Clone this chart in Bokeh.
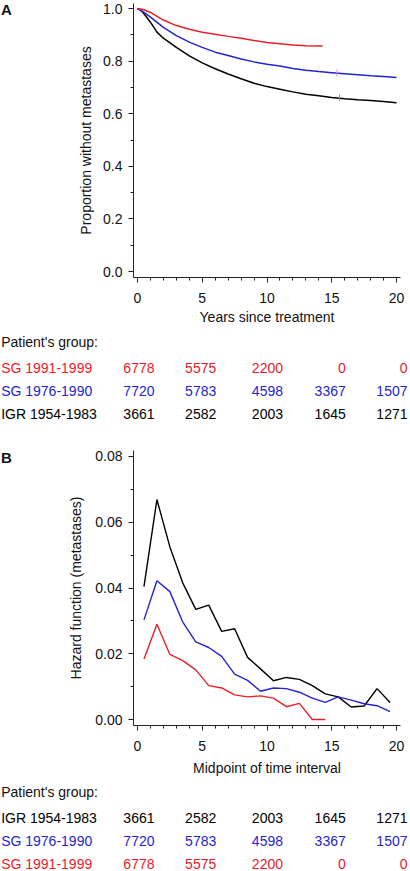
from bokeh.plotting import figure
from bokeh.layouts import column, row
from bokeh.models import Range1d, FixedTicker, NumeralTickFormatter, ColumnDataSource
from bokeh.core.properties import value
from bokeh.embed import file_html
from bokeh.resources import INLINE

FONT = "Liberation Sans"
RED = "#e8202a"
BLUE = "#2323d2"
BLACK = "#000000"

# ---------------- data: panel A (Kaplan-Meier, proportion without metastases)
km_igr_t = [0, 0.25, 0.5, 1, 1.5, 2, 3, 4, 5, 6, 7, 8, 9, 10, 11, 12, 13, 14, 15, 16, 17, 18, 19, 20]
km_igr_s = [1.0, 0.993, 0.980, 0.948, 0.910, 0.887, 0.852, 0.820, 0.793, 0.771, 0.751, 0.733, 0.716,
            0.703, 0.693, 0.683, 0.674, 0.668, 0.662, 0.657, 0.653, 0.650, 0.646, 0.642]
km_sg76_t = [0, 0.5, 1, 2, 3, 4, 5, 6, 7, 8, 9, 10, 11, 12, 13, 14, 15, 16, 17, 18, 19, 20]
km_sg76_s = [1.0, 0.985, 0.967, 0.928, 0.897, 0.872, 0.852, 0.834, 0.821, 0.808, 0.797, 0.788,
             0.781, 0.772, 0.765, 0.760, 0.756, 0.752, 0.748, 0.744, 0.741, 0.738]
km_sg91_t = [0, 0.5, 1, 2, 3, 4, 5, 6, 7, 8, 9, 10, 11, 12, 13, 14, 14.3]
km_sg91_s = [1.0, 0.995, 0.985, 0.956, 0.935, 0.921, 0.910, 0.902, 0.894, 0.887, 0.878, 0.871,
             0.866, 0.861, 0.858, 0.857, 0.857]
censor_sg76_t = [15.4]
censor_sg76_s = [0.755]
censor_igr_t = [15.6]
censor_igr_s = [0.660]

# ---------------- data: panel B (hazard function)
hz_mid = [0.5, 1.5, 2.5, 3.5, 4.5, 5.5, 6.5, 7.5, 8.5, 9.5, 10.5, 11.5, 12.5, 13.5, 14.5,
          15.5, 16.5, 17.5, 18.5, 19.5]
hz_igr = [0.0404, 0.0669, 0.0525, 0.0415, 0.0335, 0.0348, 0.0268, 0.0276, 0.0189, 0.0154,
          0.0118, 0.0128, 0.0122, 0.0103, 0.0078, 0.0069, 0.0038, 0.0041, 0.0094, 0.0052]
hz_sg76 = [0.0303, 0.0422, 0.0389, 0.0296, 0.0236, 0.0219, 0.0192, 0.0138, 0.0119, 0.0086,
           0.0096, 0.0094, 0.0083, 0.0065, 0.0052, 0.0069, 0.0059, 0.0048, 0.0042, 0.0024]
hz_sg91_mid = [0.5, 1.5, 2.5, 3.5, 4.5, 5.5, 6.5, 7.5, 8.5, 9.5, 10.5, 11.5, 12.5, 13.5, 14.5]
hz_sg91 = [0.0184, 0.0290, 0.0198, 0.0179, 0.0151, 0.0103, 0.0096, 0.0075, 0.0069, 0.0072,
           0.0065, 0.0039, 0.0049, 0.0, 0.0]

# ---------------- data: numbers at risk
risk_times = [0, 5, 10, 15, 20]
grp_names = ["SG 1991-1999", "SG 1976-1990", "IGR 1954-1983"]
grp_colors = [RED, BLUE, BLACK]
risk_sg91 = [6778, 5575, 2200, 0, 0]
risk_sg76 = [7720, 5783, 4598, 3367, 1507]
risk_igr = [3661, 2582, 2003, 1645, 1271]
risk_rows = {"SG 1991-1999": risk_sg91, "SG 1976-1990": risk_sg76, "IGR 1954-1983": risk_igr}
order_A = ["SG 1991-1999", "SG 1976-1990", "IGR 1954-1983"]
order_B = ["IGR 1954-1983", "SG 1976-1990", "SG 1991-1999"]
header = "Patient's group:"

# ---------------- layout / style constants
W = 410
LETTER_W = 20
LEFT = 133
RIGHT_B = 10
PXU = 12.95                      # px per year
X0 = -4 / PXU
X1 = 20 + 4 / PXU
FS = "14px"
RISK_XOFF = [17, 14, 16, 14, 11]  # right-edge offsets (px) of the at-risk numbers


def blank(width, height, xr, yr):
    f = figure(width=width, height=height, output_backend="svg", toolbar_location=None,
               x_range=xr, y_range=yr, x_axis_location=None, y_axis_location=None,
               min_border_left=0, min_border_right=0, min_border_top=0, min_border_bottom=0,
               frame_align=False)
    f.xgrid.visible = False
    f.ygrid.visible = False
    f.outline_line_color = None
    return f


def letter(txt, height, ytxt):
    f = blank(LETTER_W, height, Range1d(0, LETTER_W), Range1d(height, 0))
    f.text(x=[0.5], y=[ytxt], text=[txt], text_font=value(FONT), text_font_size="15px",
           text_font_style="bold", text_baseline="middle", text_align="left", text_color="#111111")
    return f


def style_axes(p, yticks, yminor, yfmt, xlabel, ylabel, xlab_standoff, ylab_standoff):
    p.xaxis.ticker = FixedTicker(ticks=[0, 5, 10, 15, 20], minor_ticks=list(range(0, 21)))
    p.yaxis.ticker = FixedTicker(ticks=yticks, minor_ticks=yminor)
    p.yaxis.formatter = NumeralTickFormatter(format=yfmt)
    for ax in (p.xaxis, p.yaxis):
        ax.major_tick_in = 0
        ax.major_tick_out = 5
        ax.minor_tick_in = 0
        ax.minor_tick_out = 3
        ax.axis_line_color = "#222222"
        ax.major_tick_line_color = "#222222"
        ax.minor_tick_line_color = "#222222"
        ax.major_label_text_font = FONT
        ax.major_label_text_font_size = FS
        ax.major_label_text_color = "#111111"
        ax.axis_label_text_font = FONT
        ax.axis_label_text_font_size = FS
        ax.axis_label_text_font_style = "normal"
        ax.axis_label_text_color = "#111111"
    p.xaxis.axis_label = xlabel
    p.yaxis.axis_label = ylabel
    p.xaxis.major_label_standoff = 10
    p.xaxis.axis_label_standoff = xlab_standoff
    p.yaxis.major_label_standoff = 6
    p.yaxis.axis_label_standoff = ylab_standoff
    p.xgrid.visible = False
    p.ygrid.visible = False
    p.outline_line_color = None


# ---------------- panel A
pA = figure(width=W - LETTER_W, height=328, output_backend="svg", toolbar_location=None,
            x_range=Range1d(X0, X1), y_range=Range1d(-6 / 263.5, 1.0 + 5 / 263.5),
            min_border_left=LEFT - LETTER_W, min_border_right=RIGHT_B, min_border_top=3,
            min_border_bottom=51, frame_align=False)
style_axes(pA, [0, 0.2, 0.4, 0.6, 0.8, 1.0], [i / 10 for i in range(11)], "0.0",
           "Years since treatment", "Proportion without metastases", 3, 6)
pA.line(km_igr_t, km_igr_s, line_color=BLACK, line_width=1.5)
pA.line(km_sg76_t, km_sg76_s, line_color=BLUE, line_width=1.5)
pA.line(km_sg91_t, km_sg91_s, line_color=RED, line_width=1.5)
pA.scatter(censor_sg76_t, censor_sg76_s, marker="dash", angle=1.5708, size=7,
           line_color="#e08ce0", line_width=1)
pA.scatter(censor_igr_t, censor_igr_s, marker="dash", angle=1.5708, size=7,
           line_color="#9a9a9a", line_width=1)


def risk_table(order, height):
    tx0 = X0 - LEFT / PXU
    tx1 = X1 + RIGHT_B / PXU
    t = blank(W, height, Range1d(tx0, tx1), Range1d(height, 0))
    t.text(x=[tx0 + 0.05], y=[13.7], text=[header], text_font=value(FONT),
           text_font_size=FS, text_baseline="middle", text_align="left", text_color="#111111")
    for i, g in enumerate(order):
        yrow = 39 + 23 * i
        col = grp_colors[grp_names.index(g)]
        t.text(x=[tx0 + 0.05], y=[yrow], text=[g], text_font=value(FONT), text_font_size=FS,
               text_baseline="middle", text_align="left", text_color=col)
        src = ColumnDataSource(dict(x=risk_times, y=[yrow] * len(risk_times),
                                    t=[str(v) for v in risk_rows[g]], xo=RISK_XOFF))
        t.text(x="x", y="y", text="t", source=src, text_font=value(FONT), text_font_size=FS,
               text_baseline="middle", text_align="right", x_offset="xo", text_color=col)
    return t


tA = risk_table(order_A, 97)

# ---------------- panel B
pB = figure(width=W - LETTER_W, height=353, output_backend="svg", toolbar_location=None,
            x_range=Range1d(X0, X1), y_range=Range1d(-6 / 3300, 0.08 + 6 / 3300),
            min_border_left=LEFT - LETTER_W, min_border_right=RIGHT_B, min_border_top=25,
            min_border_bottom=52, frame_align=False)
style_axes(pB, [0, 0.02, 0.04, 0.06, 0.08], [i / 100 for i in range(9)], "0.00",
           "Midpoint of time interval", "Hazard function (metastases)", 6, 8)
pB.line(hz_mid, hz_igr, line_color=BLACK, line_width=1.4)
pB.line(hz_mid, hz_sg76, line_color=BLUE, line_width=1.4)
pB.line(hz_sg91_mid, hz_sg91, line_color=RED, line_width=1.4)

tB = risk_table(order_B, 93)

layout = column(row(letter("A", 328, 9), pA, spacing=0),
                tA,
                row(letter("B", 353, 32), pB, spacing=0),
                tB, spacing=0)
open("out.html", "w").write(file_html(layout, INLINE))
